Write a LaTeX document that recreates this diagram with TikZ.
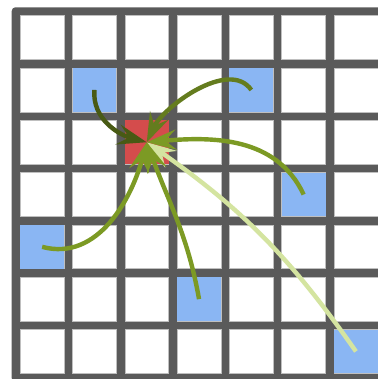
\documentclass[tikz,border=0pt]{standalone}
\usepackage{xcolor}
\usepackage{tikz}
\usetikzlibrary{arrows.meta}

\definecolor{gridgray}{RGB}{90,90,90}
\definecolor{srcblue}{RGB}{138,182,243}
\definecolor{goalred}{RGB}{212,76,76}
\definecolor{oliveA}{RGB}{72,90,20}
\definecolor{oliveB}{RGB}{100,124,30}
\definecolor{oliveC}{RGB}{124,154,36}
\definecolor{oliveD}{RGB}{212,228,160}

\begin{document}
\begin{tikzpicture}[
        cell/.style={rectangle, minimum size=0.837cm, inner sep=0pt, fill=white, draw=black!25, line width=0.3pt},
        src/.style={cell, fill=srcblue, draw=none},
        goal/.style={cell, fill=goalred, draw=none},
        flow/.style={-{Stealth[length=16pt, width=11pt, inset=6pt]}, line width=2.4pt}
    ]
        \useasboundingbox (-0.306,0.22) rectangle (6.92,-7.027);
        \fill[gridgray, rounded corners=2pt] (-0.0815,0.0815) rectangle (7.0815,-7.0815);

        % board
        \foreach \c in {0,...,6}
            \foreach \r in {0,...,6}
                \node[cell] (c\c\r) at (\c+0.5,-\r-0.5) {};

        \node[goal] (g)  at (c22) {};
        \node[src]  (s1) at (c11) {};
        \node[src]  (s2) at (c41) {};
        \node[src]  (s3) at (c53) {};
        \node[src]  (s4) at (c04) {};
        \node[src]  (s5) at (c35) {};
        \node[src]  (s6) at (c66) {};

        \path[flow]
        (s6.center) edge [oliveD, bend right=10] (g.center)
        (s4.center) edge [oliveC, out=-15, in=-105] (g.center)
        (s5.center) edge [oliveC, out=100, in=-70] (g.center)
        (s3.center) edge [oliveC, out=115, in=5] (g.center)
        (s2.center) edge [oliveB, out=125, in=65, looseness=0.85] (g.center)
        (s1.center) edge [oliveA, out=-95, in=165] (g.center);

    \end{tikzpicture}
\end{document}
